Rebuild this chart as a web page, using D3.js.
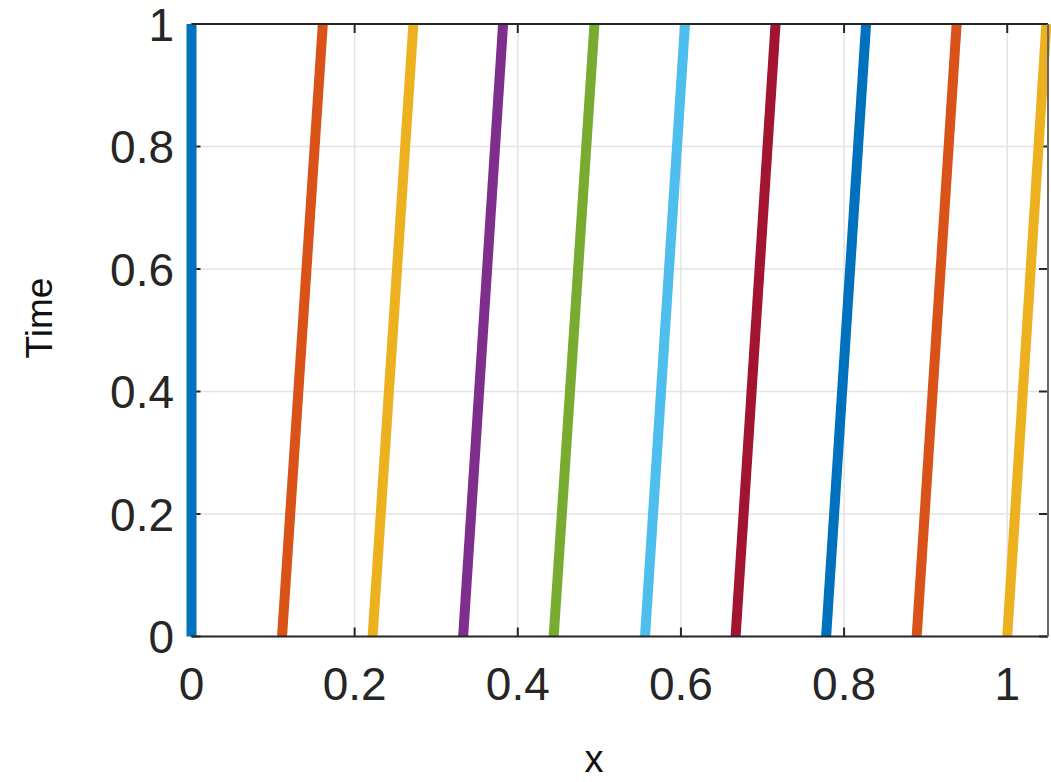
<!DOCTYPE html>
<html lang="en">
<head>
  <meta charset="UTF-8">
  <title>Characteristics</title>
  <script src="https://d3js.org/d3.v7.min.js"></script>
  <style>
    body { margin: 0; background: #fff; }
    text { font-family: "Liberation Sans", Arial, Helvetica, sans-serif; }
    .tick-label { font-size: 46px; fill: #262626; }
    .axis-label { font-size: 37px; fill: #111; }
  </style>
</head>
<body>
  <div id="chart"></div>
  <script>
    // start position (t = 0) and end position (t = 1) of each line
    const startX = [0, 0.111, 0.222, 0.333, 0.444, 0.556, 0.667, 0.778, 0.889, 1.0];
    const endX   = [0, 0.161, 0.272, 0.382, 0.494, 0.605, 0.716, 0.827, 0.938, 1.048];
    const times = [0, 1];
    const xTicks = [0, 0.2, 0.4, 0.6, 0.8, 1];
    const yTicks = [0, 0.2, 0.4, 0.6, 0.8, 1];
    const palette = ["#0072BD", "#D95319", "#EDB120", "#7E2F8E", "#77AC30", "#4DBEEE", "#A2142F"];

    const width = 1051, height = 782;
    const plotL = 191.5, plotR = 1048, plotT = 24, plotB = 636.5;

    const svg = d3.select("#chart").append("svg")
      .attr("width", width)
      .attr("height", height);

    const x = d3.scaleLinear().domain([0, 1.05]).range([plotL, plotR]);
    const y = d3.scaleLinear().domain([0, 1]).range([plotB, plotT]);
    const fmt = d => d3.format("~g")(d);

    // grid
    const grid = svg.append("g").attr("stroke", "#e3e3e3").attr("stroke-width", 1.5);
    grid.selectAll(".gx").data(xTicks.filter(d => d > 0)).enter().append("line")
      .attr("x1", d => x(d)).attr("x2", d => x(d))
      .attr("y1", plotT).attr("y2", plotB);
    grid.selectAll(".gy").data(yTicks.filter(d => d > 0 && d < 1)).enter().append("line")
      .attr("x1", plotL).attr("x2", plotR)
      .attr("y1", d => y(d)).attr("y2", d => y(d));

    // ticks (inward, mirrored on top and right)
    const tickLen = 9;
    const ticks = svg.append("g").attr("stroke", "#262626").attr("stroke-width", 2);
    xTicks.forEach(d => {
      ticks.append("line").attr("x1", x(d)).attr("x2", x(d)).attr("y1", plotB).attr("y2", plotB - tickLen);
      ticks.append("line").attr("x1", x(d)).attr("x2", x(d)).attr("y1", plotT).attr("y2", plotT + tickLen);
    });
    yTicks.forEach(d => {
      ticks.append("line").attr("x1", plotL).attr("x2", plotL + tickLen).attr("y1", y(d)).attr("y2", y(d));
      ticks.append("line").attr("x1", plotR).attr("x2", plotR - tickLen).attr("y1", y(d)).attr("y2", y(d));
    });

    // lines
    const line = d3.line().x(d => x(d[0])).y(d => y(d[1]));
    svg.append("g").selectAll("path")
      .data(startX.map((s, i) => [[s, times[0]], [endX[i], times[1]]]))
      .enter().append("path")
      .attr("d", line)
      .attr("fill", "none")
      .attr("stroke", (d, i) => palette[i % palette.length])
      .attr("stroke-width", 10)
      .attr("stroke-linecap", "butt");

    // box
    svg.append("line").attr("x1", plotL).attr("x2", plotR).attr("y1", plotB).attr("y2", plotB)
      .attr("stroke", "#262626").attr("stroke-width", 2);
    svg.append("line").attr("x1", plotL).attr("x2", plotR).attr("y1", plotT).attr("y2", plotT)
      .attr("stroke", "#262626").attr("stroke-width", 2);
    svg.append("line").attr("x1", plotR).attr("x2", plotR).attr("y1", plotT).attr("y2", plotB)
      .attr("stroke", "#666").attr("stroke-width", 2);

    // tick labels
    svg.append("g").selectAll("text").data(xTicks).enter().append("text")
      .attr("class", "tick-label")
      .attr("x", d => x(d)).attr("y", 700)
      .attr("text-anchor", "middle")
      .text(fmt);
    svg.append("g").selectAll("text").data(yTicks).enter().append("text")
      .attr("class", "tick-label")
      .attr("x", 174).attr("y", d => y(d))
      .attr("dy", "0.36em")
      .attr("text-anchor", "end")
      .text(fmt);

    // axis labels
    svg.append("text").attr("class", "axis-label")
      .attr("transform", "translate(52,318) rotate(-90)")
      .attr("text-anchor", "middle")
      .text("Time");
    svg.append("text").attr("class", "axis-label")
      .attr("x", 594).attr("y", 772)
      .attr("text-anchor", "middle")
      .style("font-size", "38px")
      .text("x");
  </script>
</body>
</html>
